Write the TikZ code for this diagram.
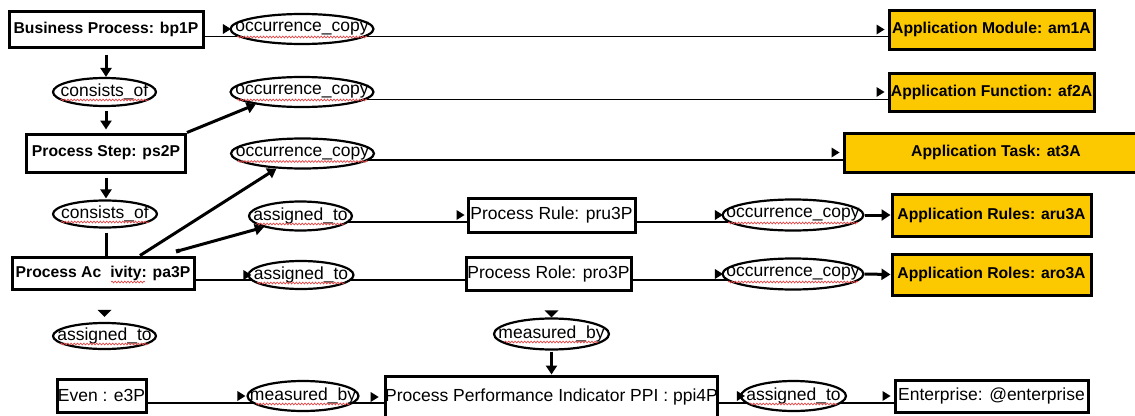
\documentclass[tikz,border=0pt]{standalone}
\usepackage{fontspec}
\setmainfont{Liberation Sans}
\usetikzlibrary{shapes.geometric,arrows.meta,decorations.pathmorphing}
\pgfdeclarelayer{bg}
\pgfsetlayers{bg,main}
\definecolor{appyellow}{RGB}{252,200,0}
\definecolor{spellred}{RGB}{228,70,70}

\begin{document}
\begin{tikzpicture}[x=1pt,y=-1pt,
  regfont/.style={font=\fontsize{17.5}{20}\selectfont},
  boldfont/.style={font=\bfseries\fontsize{15.7}{19}\selectfont},
  sz/.style 2 args={minimum width=#1pt,minimum height=#2pt},
  box/.style={draw,line width=3pt,fill=white,inner sep=0pt,regfont},
  keybox/.style={box,boldfont},
  appbox/.style={box,boldfont,fill=appyellow},
  rel/.style={ellipse,draw,line width=2.2pt,fill=white,inner sep=0pt},
  every label/.style={inner sep=0pt,regfont},
  link/.style={line width=1.2pt},
  flow/.style={line width=3pt,-{Triangle[length=9pt,width=11pt]}},
  spell/.style={line width=0.7pt,draw=spellred,decorate,
    decoration={snake,amplitude=0.9pt,segment length=3.2pt}},
  rtri/.pic={\fill (0,0) -- (-8,-5) -- (-8,5) -- cycle;},
  dtri/.pic={\fill (0,0) -- (-7,-7) -- (7,-7) -- cycle;}
]
\useasboundingbox (0,0) rectangle (1135,415);
\clip (0,0) rectangle (1135,415);

% process side
\node[keybox,sz={194}{36}] (bp) at (106,29) {Business Process: bp1P};
\node[keybox,sz={159}{38}] (ps) at (106,153) {Process Step: ps2P};
\node[keybox,sz={182}{32}] (pa) at (103,273) {Process Ac\hspace{9pt}ivity: pa3P};
\node[box,sz={167}{34}] (pru) at (551.5,215) {Process Rule: pru3P};
\node[box,sz={165}{33}] (pro) at (548.5,273.5) {Process Role: pro3P};
\node[box,sz={89}{33}] (ev) at (101.5,395.5) {Even : e3P};
\node[box,sz={331}{42}] (ppi) at (551.5,397) {Process Performance Indicator PPI : ppi4P};
\node[box,sz={193}{32}] (ent) at (991.5,396) {Enterprise: @enterprise};

% application side
\node[appbox,sz={205}{39}] (am) at (991.5,29.5) {Application Module: am1A};
\node[appbox,sz={205}{38}] (af) at (991.5,92) {Application Function: af2A};
\node[appbox,sz={304}{39}] (at) at (996,152.5) {Application Task: at3A};
\node[appbox,sz={199}{42}] (aru) at (991.5,215) {Application Rules: aru3A};
\node[appbox,sz={199}{41}] (aro) at (991.5,274.5) {Application Roles: aro3A};

% relations
\node[rel,sz={143}{30},label=center:{occurrence\_copy}] (occ1) at (302,29) {};
\node[rel,sz={143}{30},label=center:{occurrence\_copy}] (occ2) at (302,92) {};
\node[rel,sz={143}{30},label=center:{occurrence\_copy}] (occ3) at (302.5,153.5) {};
\node[rel,sz={103}{28},label=center:{consists\_of}] (cons1) at (104.5,92) {};
\node[rel,sz={104}{27},label=center:{consists\_of}] (cons2) at (105,214) {};
\node[rel,sz={103}{29},label=center:{assigned\_to}] (asg1) at (300.5,216) {};
\node[rel,sz={105}{28},label=center:{assigned\_to}] (asg2) at (301,275) {};
\node[rel,sz={141}{31},label=center:{occurrence\_copy}] (occ4) at (793,215) {};
\node[rel,sz={141}{31},label=center:{occurrence\_copy}] (occ5) at (793,274) {};
\node[rel,sz={103}{26},label=center:{assigned\_to}] (asg3) at (104.5,336) {};
\node[rel,sz={115}{31},label=center:{measured\_by}] (mb1) at (551.5,334) {};
\node[rel,sz={111}{30},label=center:{measured\_by}] (mb2) at (303,396) {};
\node[rel,sz={105}{30},label=center:{assigned\_to}] (asg4) at (793.5,396) {};

% thin links, kept behind the nodes
\begin{pgfonlayer}{bg}
\draw[link] (bp.center |- 0,36.5) -- (am.center |- 0,36.5);
\draw[link] (occ2.center |- 0,99.5) -- (af.center |- 0,99.5);
\draw[link] (occ3.center |- 0,160) -- (at.center |- 0,160);
\draw[link] (asg1.center |- 0,222) -- (pru.center |- 0,222);
\draw[link] (pru.center |- 0,222) -- (occ4.center |- 0,222);
\draw[link] (pa.center |- 0,280) -- (pro.center |- 0,280);
\draw[link] (pro.center |- 0,280) -- (occ5.center |- 0,280);
\draw[link] (ev.center |- 0,403) -- (ppi.center |- 0,403);
\draw[link] (ppi.center |- 0,403) -- (ent.center |- 0,403);
\end{pgfonlayer}

% bold flows
\draw[flow,shorten <=6pt] (bp.south) -- (bp.south |- cons1.north);
\draw[flow,shorten <=4pt,shorten >=3pt] (bp.south |- cons1.south) -- (bp.south |- ps.north);
\draw[flow,shorten <=4pt,shorten >=1pt] (ps.south) -- (ps.south |- cons2.north);
\draw[line width=3pt,shorten <=4pt] (ps.south |- cons2.south) -- (ps.south |- pa.north);
\draw[flow] (ps.north east) -- (occ2.195);
\draw[flow] ([xshift=37pt]pa.north) -- (occ3.210);
\draw[flow,{Square[length=4pt,width=4pt]}-{Triangle[length=9pt,width=11pt]}]
  ([xshift=73pt,yshift=4pt]pa.north) -- (asg1.197);
\draw[flow] (occ4.east) -- (aru.west);
\draw[flow] (occ5.east) -- (aro.west);
\draw[flow,shorten <=1pt] (mb1.south) -- (mb1.south |- ppi.north);

% link markers
\pic at ([xshift=1.5pt]occ1.west) {rtri};
\pic at ([xshift=-3pt]am.west) {rtri};
\pic at ([xshift=-3pt]af.west) {rtri};
\pic at ([xshift=-3pt]at.west) {rtri};
\pic at ([xshift=-2pt]pru.west) {rtri};
\pic at ([xshift=1.5pt]occ4.west) {rtri};
\pic at ([xshift=1.5pt]occ5.west) {rtri};
\pic at ([xshift=4pt]asg2.west) {rtri};
\pic at ([xshift=-1pt]mb2.west) {rtri};
\pic at ([xshift=-5pt]ppi.west) {rtri};
\pic at ([xshift=5pt]asg4.west) {rtri};
\pic at ([xshift=-3pt]ent.west) {rtri};
\pic at ([yshift=5pt]asg3.north) {dtri};
\pic at (mb1.north) {dtri};

% spell-check squiggles
\foreach \n/\w in {occ1/65,occ2/65,occ3/65,occ4/65,occ5/65,cons1/44,cons2/44,
  asg1/44,asg2/44,asg3/44,asg4/44,mb1/47,mb2/47}
  \draw[spell] ([xshift=-\w,yshift=-8]\n.center) -- ([xshift=\w,yshift=-8]\n.center);
\draw[spell] ([xshift=8,yshift=-9]pa.center) -- ([xshift=42,yshift=-9]pa.center);
\end{tikzpicture}
\end{document}
